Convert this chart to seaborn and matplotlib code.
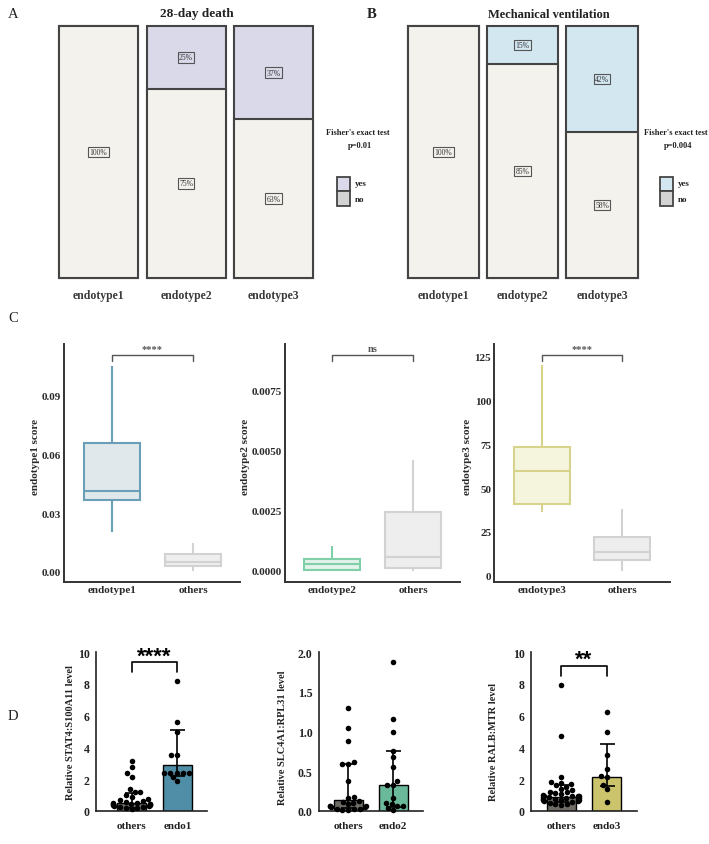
import numpy as np
import pandas as pd
import matplotlib
matplotlib.use('Agg')
import matplotlib.pyplot as plt
from matplotlib.patches import Rectangle
import matplotlib.transforms as mtrans
import seaborn as sns
import warnings
warnings.filterwarnings('ignore')

# ---------------- data ----------------
mosaic_groups = ['endotype1', 'endotype2', 'endotype3']
death_yes_pct = [0, 25, 37]
death_no_pct = [100, 75, 63]
mv_yes_pct = [0, 15, 42]
mv_no_pct = [100, 85, 58]
death_p = 'p=0.01'
mv_p = 'p=0.004'

# panel C: five-number summaries (min, q1, median, q3, max)
c1_groups = ['endotype1', 'others']
c1_endotype = [0.0202, 0.0364, 0.0410, 0.0654, 0.1050]
c1_others = [0.0007, 0.0031, 0.0053, 0.0089, 0.0147]
c2_groups = ['endotype2', 'others']
c2_endotype = [0.0000, 0.00004, 0.00027, 0.00049, 0.00104]
c2_others = [0.0000, 0.00010, 0.00056, 0.00246, 0.00461]
c3_groups = ['endotype3', 'others']
c3_endotype = [36.2, 41.1, 59.6, 73.6, 120.3]
c3_others = [2.9, 9.0, 13.4, 22.1, 38.1]
c_signif = ['****', 'ns', '****']

# panel D: individual points + bar heights and interval bars
d1_groups = ['others', 'endo1']
d1_others = [3.15, 2.75, 2.35, 2.15, 1.35, 1.2, 1.15, 1.0, 0.85, 0.75, 0.65, 0.6,
             0.55, 0.5, 0.5, 0.45, 0.45, 0.4, 0.4, 0.35, 0.35, 0.3, 0.3, 0.25,
             0.25, 0.2, 0.15, 0.1]
d1_endo = [8.17, 5.6, 4.95, 3.5, 3.5, 2.4, 2.4, 2.35, 2.4, 2.4, 2.1, 1.85]
d1_bar = [0.47, 2.88]
d1_low = [0.2, 2.2]
d1_high = [1.1, 5.1]

d2_groups = ['others', 'endo2']
d2_others = [1.30, 1.05, 0.88, 0.62, 0.59, 0.59, 0.38, 0.17, 0.16, 0.12, 0.11,
             0.10, 0.08, 0.06, 0.06, 0.06, 0.05, 0.05, 0.02, 0.02, 0.02, 0.01, 0.01]
d2_endo = [1.88, 1.16, 1.0, 0.76, 0.68, 0.55, 0.38, 0.33, 0.33, 0.16, 0.1, 0.08,
           0.06, 0.06, 0.03, 0.01]
d2_bar = [0.13, 0.32]
d2_low = [0.03, 0.05]
d2_high = [0.59, 0.76]

d3_groups = ['others', 'endo3']
d3_others = [7.95, 4.72, 2.1, 1.8, 1.75, 1.7, 1.6, 1.5, 1.4, 1.3, 1.2, 1.15, 1.1,
             1.05, 1.0, 0.95, 0.95, 0.9, 0.9, 0.85, 0.85, 0.8, 0.8, 0.75, 0.75,
             0.7, 0.7, 0.65, 0.6, 0.6, 0.55, 0.5, 0.45, 0.4, 0.35]
d3_endo = [6.25, 4.95, 3.5, 2.65, 2.2, 2.1, 1.6, 1.35, 0.53]
d3_bar = [0.88, 2.15]
d3_low = [0.55, 1.55]
d3_high = [1.6, 4.21]

# ---------------- style ----------------
sns.set_theme(style='white')
plt.rcParams['font.family'] = ['Liberation Serif', 'DejaVu Serif']
plt.rcParams['text.color'] = '#222222'

W, H = 709, 845
fig = plt.figure(figsize=(W / 100, H / 100), dpi=100)


def px_axes(l, t, r, b):
    return fig.add_axes([l / W, 1 - b / H, (r - l) / W, (b - t) / H])


def ftext(x, y, s, **kw):
    fig.text(x / W, 1 - y / H, s, **kw)


def frect(l, t, r, b, fc, ec='#444444', lw=1.3):
    fig.add_artist(Rectangle((l / W, 1 - b / H), (r - l) / W, (b - t) / H,
                             transform=fig.transFigure, fc=fc, ec=ec, lw=lw))


NO_COL = '#f3f2ed'
EDGE = '#444444'


def mosaic(ax, yes, no, yes_col, width):
    total = [a + b for a, b in zip(yes, no)]
    sns.barplot(x=mosaic_groups, y=total, color=yes_col, saturation=1, width=width,
                edgecolor=EDGE, linewidth=1.5, ax=ax)
    sns.barplot(x=mosaic_groups, y=no, color=NO_COL, saturation=1, width=width,
                edgecolor=EDGE, linewidth=1.5, ax=ax)
    for p in ax.patches:
        p.set_clip_on(False)
    ax.set_xlim(-width / 2, 2 + width / 2)
    ax.set_ylim(0, 100)
    for s in ax.spines.values():
        s.set_visible(False)
    ax.set_yticks([])
    ax.set_ylabel('')
    ax.tick_params(axis='x', length=0, pad=8)
    for lab in ax.get_xticklabels():
        lab.set_fontweight('bold'); lab.set_fontsize(8.5); lab.set_color('#3a3a3a')
    bb = dict(boxstyle='square,pad=0.18', fc=NO_COL, ec='#555555', lw=0.8)
    for i, (y, n) in enumerate(zip(yes, no)):
        if y > 0:
            bby = dict(bb, fc=yes_col)
            ax.text(i, 100 - y / 2, f'{y}%', ha='center', va='center', fontsize=5.5,
                    bbox=bby, color='#333333')
        ax.text(i, n / 2, f'{n}%', ha='center', va='center', fontsize=5.5,
                bbox=bb, color='#333333')


# ---- Panel A ----
axA = px_axes(59, 27, 313, 279)
mosaic(axA, death_yes_pct, death_no_pct, '#d9d9ea', 79 / 87.5)
ftext(8, 15, 'A', fontsize=10.5, va='center', ha='left')
ftext(196.5, 14.5, '28-day death', fontsize=9.5, fontweight='bold', ha='center', va='center')
ftext(358, 133, "Fisher's exact test", fontsize=6, fontweight='bold', ha='center', va='center')
ftext(360, 145.5, death_p, fontsize=6, fontweight='bold', ha='center', va='center')
frect(337, 178, 350, 191.5, '#d9d9ea')
frect(337, 191.5, 350, 206.5, '#d3d3d3')
ftext(355, 184.5, 'yes', fontsize=6.5, fontweight='bold', va='center')
ftext(355, 199.5, 'no', fontsize=6.5, fontweight='bold', va='center')

# ---- Panel B ----
axB = px_axes(408, 27, 637.5, 279)
mosaic(axB, mv_yes_pct, mv_no_pct, '#d3e7f1', 71 / 79.2)
ftext(367, 15, 'B', fontsize=10.5, fontweight='bold', va='center', ha='left')
ftext(549, 14.5, 'Mechanical ventilation', fontsize=9, fontweight='bold', ha='center', va='center')
ftext(675.5, 133, "Fisher's exact test", fontsize=6, fontweight='bold', ha='center', va='center')
ftext(678, 145.5, mv_p, fontsize=6, fontweight='bold', ha='center', va='center')
frect(659.5, 178, 672.5, 192, '#d3e7f1')
frect(659.5, 192, 672.5, 206.5, '#d3d3d3')
ftext(677.5, 184.5, 'yes', fontsize=6.5, fontweight='bold', va='center')
ftext(677.5, 199.5, 'no', fontsize=6.5, fontweight='bold', va='center')

# ---- Panel C ----
ftext(8, 318, 'C', fontsize=10.5, va='center', ha='left')


def cbox(ax, groups, e_vals, o_vals, e_face, e_edge, ylim, yticks, ylabels, ylab,
         xlim, sig, ylab_x, ylab_y=0.5):
    sns.boxplot(x=[groups[0]] * len(e_vals), y=e_vals, order=groups, color=e_face,
                linecolor=e_edge, saturation=1, width=0.7, linewidth=1.5,
                whis=(0, 100), showcaps=False, fliersize=0, ax=ax)
    sns.boxplot(x=[groups[1]] * len(o_vals), y=o_vals, order=groups, color='#eeeeee',
                linecolor='#d2d2d2', saturation=1, width=0.7, linewidth=1.5,
                whis=(0, 100), showcaps=False, fliersize=0, ax=ax)
    ax.set_ylim(*ylim)
    ax.set_xlim(*xlim)
    ax.set_yticks(yticks)
    ax.set_yticklabels(ylabels)
    for s in ['top', 'right']:
        ax.spines[s].set_visible(False)
    for s in ['left', 'bottom']:
        ax.spines[s].set_color('#333333'); ax.spines[s].set_linewidth(1.4)
    ax.tick_params(length=0, pad=2, labelsize=8)
    for lab in ax.get_xticklabels() + ax.get_yticklabels():
        lab.set_fontweight('bold'); lab.set_color('#2a2a2a')
    ax.set_ylabel(ylab, fontsize=8, fontweight='bold', color='#2a2a2a')
    ax.yaxis.set_label_coords(ylab_x, ylab_y)
    ax.set_xlabel('')
    tr = mtrans.blended_transform_factory(ax.transData, ax.transAxes)
    ax.plot([0, 0, 1, 1], [0.930, 0.953, 0.953, 0.930], transform=tr, color='#555555',
            lw=1.0, clip_on=False)
    ax.text(0.5, 0.962, sig, transform=tr, ha='center', va='bottom', fontsize=7.5,
            fontweight='bold', color='#555555')


ax1 = px_axes(64, 345, 240, 583)
cbox(ax1, c1_groups, c1_endotype, c1_others, '#e1e8ec', '#6a9fb8', (-0.0051, 0.116),
     [0, 0.03, 0.06, 0.09], ['0.00', '0.03', '0.06', '0.09'], 'endotype1 score',
     (-0.593, 1.58), c_signif[0], -0.136, 0.53)
ax2 = px_axes(285, 345, 460, 583)
cbox(ax2, c2_groups, c2_endotype, c2_others, '#e3f3eb', '#7fcfa8', (-0.00047, 0.00945),
     [0, 0.0025, 0.005, 0.0075], ['0.0000', '0.0025', '0.0050', '0.0075'], 'endotype2 score',
     (-0.58, 1.58), c_signif[1], -0.2, 0.53)
ax3 = px_axes(494, 345, 670, 583)
cbox(ax3, c3_groups, c3_endotype, c3_others, '#f5f5de', '#d8d38a', (-3.6, 132.2),
     [0, 25, 50, 75, 100, 125], ['0', '25', '50', '75', '100', '125'], 'endotype3 score',
     (-0.6, 1.6), c_signif[2], -0.125, 0.53)

# ---- Panel D ----
ftext(8, 717, 'D', fontsize=10.5, va='center', ha='left')


def dbar(ax, groups, others, endo, bar, low, high, endo_col, ylim, yticks, ylabels, ylab,
         xlim, ylab_x, ylab_y, sig=None, sig_y=None):
    sns.barplot(x=groups, y=bar, order=groups, palette=['#6e6a64', endo_col], hue=groups,
                legend=False, saturation=1, width=0.64, edgecolor='black', linewidth=1.0,
                ax=ax, zorder=1)
    yerr = [[b - l for b, l in zip(bar, low)], [h - b for b, h in zip(bar, high)]]
    ax.errorbar([0, 1], bar, yerr=yerr, fmt='none', ecolor='black', elinewidth=1.2,
                capsize=5.4, capthick=1.2, zorder=2)
    df = pd.DataFrame({'g': [groups[0]] * len(others) + [groups[1]] * len(endo),
                       'v': others + endo})
    sns.swarmplot(data=df, x='g', y='v', order=groups, color='black', size=4.0, ax=ax,
                  zorder=3, clip_on=False)
    ax.set_ylim(*ylim)
    ax.set_xlim(*xlim)
    ax.set_yticks(yticks)
    ax.set_yticklabels(ylabels)
    for s in ['top', 'right']:
        ax.spines[s].set_visible(False)
    for s in ['left', 'bottom']:
        ax.spines[s].set_color('#222222'); ax.spines[s].set_linewidth(1.2)
    ax.tick_params(axis='y', length=3, width=1.2, pad=1.5, labelsize=8.5, color='#222222')
    ax.tick_params(axis='x', length=3.5, width=1.2, pad=4, labelsize=8, color='#222222')
    for lab in ax.get_xticklabels() + ax.get_yticklabels():
        lab.set_fontweight('bold'); lab.set_color('#222222')
    ax.set_ylabel(ylab, fontsize=7.5, fontweight='bold', color='#222222')
    ax.yaxis.set_label_coords(ylab_x, ylab_y)
    ax.set_xlabel('')
    if sig:
        b1, b2, ty = sig_y
        ax.plot([0, 0, 1, 1], [b2, b1, b1, b2], color='black', lw=1.2, clip_on=False)
        ax.text(0.5, ty, sig, ha='center', va='center', fontsize=16, fontweight='bold',
                family=['Liberation Sans', 'DejaVu Sans'], color='black', clip_on=False)


axd1 = px_axes(96, 653.3, 207, 811.7)
dbar(axd1, d1_groups, d1_others, d1_endo, d1_bar, d1_low, d1_high, '#4f8ea6', (0, 10),
     [0, 2, 4, 6, 8, 10], ['0', '2', '4', '6', '8', '10'], 'Relative STAT4:S100A11 level',
     (-0.78, 1.65), -0.19, 0.5, '****', (9.41, 8.78, 9.75))
axd2 = px_axes(319, 653.3, 423, 811.7)
dbar(axd2, d2_groups, d2_others, d2_endo, d2_bar, d2_low, d2_high, '#6bb99b', (0, 2),
     [0, 0.5, 1.0, 1.5, 2.0], ['0.0', '0.5', '1.0', '1.5', '2.0'],
     'Relative SLC4A1:RPL31 level', (-0.65, 1.66), -0.308, 0.47)
axd3 = px_axes(531, 653.3, 637, 811.7)
dbar(axd3, d3_groups, d3_others, d3_endo, d3_bar, d3_low, d3_high, '#ccc46c', (0, 10),
     [0, 2, 4, 6, 8, 10], ['0', '2', '4', '6', '8', '10'], 'Relative RALB:MTR level',
     (-0.66, 1.66), -0.311, 0.44, '**', (9.15, 8.52, 9.55))

fig.savefig('out.png', dpi=100, facecolor='white')
